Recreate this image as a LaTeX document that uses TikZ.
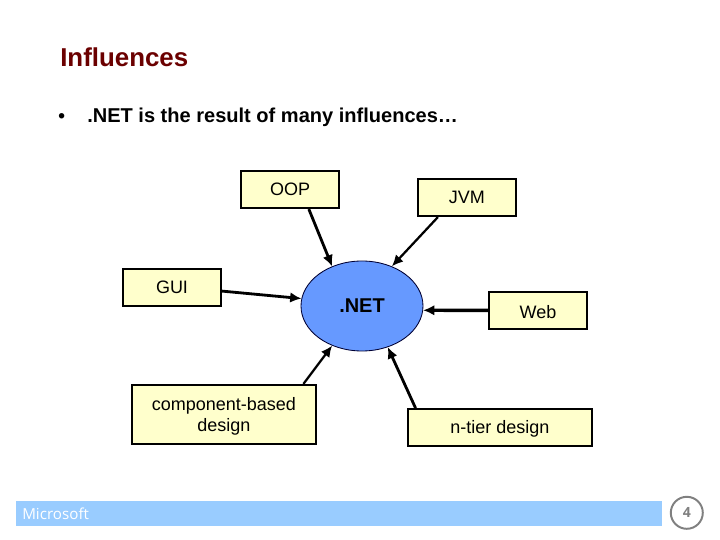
\documentclass[tikz,border=0pt]{standalone}
\usepackage{fontspec}
\setmainfont{Liberation Sans}
\newfontfamily\footfont{Open Sans}
\usetikzlibrary{arrows.meta,shapes.geometric}
\definecolor{titlered}{HTML}{6B0000}
\definecolor{boxyellow}{HTML}{FFFFCC}
\definecolor{netblue}{HTML}{6699FF}
\definecolor{barblue}{HTML}{99CCFF}
\definecolor{numgray}{HTML}{808080}
\tikzset{
	infbox/.style={draw=black,line width=1.4pt,fill=boxyellow,inner sep=0pt,align=center,font=\fontsize{12.8}{15}\selectfont},
	lowertext/.style={execute at begin node={\rule{0pt}{#1}}},
	infarrow/.style={-{Latex[length=8pt,width=7.5pt]},line width=2pt,black}
}

\begin{document}
\begin{tikzpicture}
			\useasboundingbox (0,0) rectangle (18,13.5);
			% heading
			\node[anchor=west,inner sep=0pt,text=titlered,font=\fontsize{18.4}{22}\selectfont\bfseries] (title) at (1.5,12.07) {Influences};
			\node[anchor=west,inner sep=0pt,font=\fontsize{13.5}{16}\selectfont\bfseries] (bullet) at (1.45,10.56) {•};
			\node[anchor=west,inner sep=0pt,font=\fontsize{14.25}{17}\selectfont\bfseries] (lead) at (2.175,10.56) {.NET is the result of many influences…};
			% boxes
			\node[infbox,minimum width=2.45cm,minimum height=0.925cm] (oop) at (7.25,8.76) {OOP};
			\node[infbox,minimum width=2.45cm,minimum height=0.925cm] (jvm) at (11.67,8.56) {JVM};
			\node[infbox,minimum width=2.45cm,minimum height=0.925cm] (gui) at (4.3,6.31) {GUI};
			\node[infbox,lowertext=11pt,minimum width=2.45cm,minimum height=0.925cm] (web) at (13.45,5.74) {Web};
			\node[infbox,minimum width=4.6cm,minimum height=1.475cm] (comp) at (5.6,3.14) {\rule{0pt}{11.8pt}component-based\\design};
			\node[infbox,lowertext=11pt,minimum width=4.6cm,minimum height=0.925cm] (tier) at (12.5,2.81) {n-tier design};
			\node[ellipse,draw=black!80!blue,line width=0.6pt,fill=netblue,minimum width=3.05cm,minimum height=2.25cm,inner sep=0pt,font=\fontsize{14.2}{17}\selectfont\bfseries] (net) at (9.05,5.85) {.NET};
			% arrows
			\draw[infarrow] (oop.-46) -- (net.127);
			\draw[infarrow,line width=1.6pt] (jvm.214) -- (net.53);
			\draw[infarrow] (gui.-4) -- (net.173);
			\draw[infarrow,line width=2.4pt] (web.west) -- (net.-4);
			\draw[infarrow,line width=1.6pt] (comp.21) -- (net.233);
			\draw[infarrow] (tier.167) -- (net.-58);
			% footer
			\node[anchor=west,minimum width=16.15cm,minimum height=0.625cm,inner sep=0pt,fill=barblue] (bar) at (0.4,0.66) {};
			\node[anchor=west,inner sep=0pt,text=white,font=\footfont\fontsize{10.8}{12}\selectfont] (brand) at (0.55,0.66) {Microsoft};
			\node[circle,draw=numgray,line width=1.4pt,minimum size=0.8cm,inner sep=0pt,text=numgray,font=\footfont\bfseries\fontsize{10}{12}\selectfont] (page) at (17.17,0.68) {4};
		\end{tikzpicture}
\end{document}
